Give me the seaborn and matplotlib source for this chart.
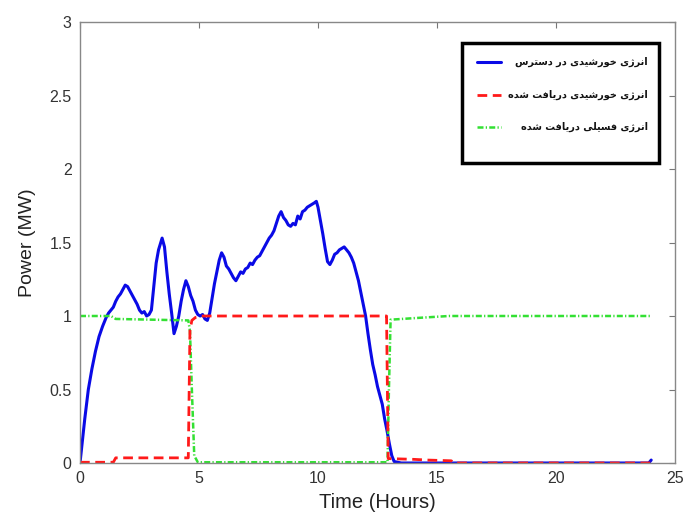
import numpy as np
import pandas as pd
import matplotlib
matplotlib.use("Agg")
import matplotlib.pyplot as plt
from matplotlib.patches import Rectangle
from matplotlib.lines import Line2D
import seaborn as sns

# ---------------- data ----------------
blue_t = [0.0, 0.1, 0.2, 0.35, 0.5, 0.65, 0.8, 0.95, 1.1, 1.2, 1.3, 1.4, 1.5, 1.6, 1.7, 1.8, 1.9,
          2.0, 2.1, 2.2, 2.3, 2.4, 2.5, 2.6, 2.7, 2.8, 2.9, 3.0, 3.1, 3.2, 3.3, 3.45, 3.55, 3.65,
          3.75, 3.85, 3.95, 4.05, 4.15, 4.25, 4.35, 4.45, 4.55, 4.65, 4.75, 4.85, 4.95, 5.05,
          5.15, 5.25, 5.35, 5.45, 5.55, 5.65, 5.75, 5.85, 5.95, 6.05, 6.15, 6.25, 6.35, 6.45,
          6.55, 6.65, 6.75, 6.85, 6.95, 7.05, 7.15, 7.25, 7.35, 7.45, 7.55, 7.65, 7.75, 7.85,
          7.95, 8.05, 8.15, 8.25, 8.35, 8.45, 8.55, 8.65, 8.75, 8.85, 8.95, 9.05, 9.15, 9.25,
          9.35, 9.45, 9.55, 9.65, 9.75, 9.85, 9.93, 10.0, 10.1, 10.2, 10.3, 10.4, 10.5, 10.6,
          10.7, 10.8, 10.9, 11.0, 11.1, 11.2, 11.3, 11.4, 11.5, 11.6, 11.7, 11.8, 11.9, 12.0,
          12.1, 12.2, 12.3, 12.4, 12.5, 12.6, 12.7, 12.8, 12.9, 13.0, 13.1, 13.2, 13.5, 16.0,
          20.0, 23.9, 24.0]
blue_p = [0.0, 0.15, 0.30, 0.50, 0.64, 0.76, 0.86, 0.93, 0.99, 1.02, 1.04, 1.06, 1.10, 1.13,
          1.15, 1.18, 1.21, 1.20, 1.17, 1.14, 1.11, 1.08, 1.04, 1.02, 1.03, 1.00, 1.01, 1.04,
          1.20, 1.36, 1.45, 1.53, 1.47, 1.30, 1.15, 1.02, 0.88, 0.93, 1.00, 1.10, 1.18, 1.24,
          1.20, 1.14, 1.10, 1.04, 1.01, 1.00, 1.01, 0.98, 0.97, 1.02, 1.12, 1.22, 1.30, 1.38,
          1.43, 1.40, 1.34, 1.32, 1.29, 1.26, 1.24, 1.27, 1.30, 1.29, 1.32, 1.33, 1.36, 1.35,
          1.38, 1.40, 1.41, 1.44, 1.47, 1.50, 1.53, 1.55, 1.58, 1.63, 1.68, 1.71, 1.67, 1.65,
          1.62, 1.61, 1.63, 1.62, 1.68, 1.66, 1.71, 1.72, 1.74, 1.75, 1.76, 1.77, 1.78, 1.74,
          1.65, 1.56, 1.46, 1.37, 1.35, 1.38, 1.42, 1.43, 1.45, 1.46, 1.47, 1.45, 1.43, 1.40,
          1.36, 1.30, 1.24, 1.16, 1.08, 1.00, 0.88, 0.77, 0.67, 0.60, 0.52, 0.46, 0.40, 0.30,
          0.22, 0.13, 0.05, 0.01, 0.0, 0.0, 0.0, 0.0, 0.02]

red_t = [0.0, 1.4, 1.5, 4.55, 4.62, 4.7, 4.85, 5.1, 12.88, 12.95, 14.0, 14.6, 15.6, 15.7, 24.0]
red_p = [0.005, 0.005, 0.035, 0.035, 0.90, 0.97, 0.99, 1.0, 1.0, 0.03, 0.025, 0.02, 0.015, 0.0, 0.0]

green_t = [0.0, 1.3, 1.5, 4.55, 4.62, 4.7, 4.8, 4.95, 12.92, 12.98, 13.05, 14.0, 15.0, 15.5, 24.0]
green_p = [1.0, 1.0, 0.98, 0.97, 0.90, 0.50, 0.05, 0.005, 0.005, 0.50, 0.975, 0.985, 0.995, 1.0, 1.0]

labels = ["انرژی خورشیدی در دسترس", "انرژی خورشیدی دریافت شده", "انرژی فسیلی دریافت شده"]
x_ticks = [0, 5, 10, 15, 20, 25]
y_ticks = [0, 0.5, 1, 1.5, 2, 2.5, 3]
y_ticklabels = ["0", "0.5", "1", "1.5", "2", "2.5", "3"]

# ---------------- simple Persian shaping (presentation forms, visual order) ----------------
FORMS = {
    'ا': ('\u0627', '\uFE8E', None, None),
    'ن': ('\u0646', '\uFEE6', '\uFEE7', '\uFEE8'),
    'ر': ('\u0631', '\uFEAE', None, None),
    'ژ': ('\u0698', '\uFB8B', None, None),
    'ی': ('\u06CC', '\uFEF0', '\uFEF3', '\uFEF4'),
    'خ': ('\u062E', '\uFEA6', '\uFEA7', '\uFEA8'),
    'و': ('\u0648', '\uFEEE', None, None),
    'ش': ('\u0634', '\uFEB6', '\uFEB7', '\uFEB8'),
    'د': ('\u062F', '\uFEAA', None, None),
    'س': ('\u0633', '\uFEB2', '\uFEB3', '\uFEB4'),
    'ت': ('\u062A', '\uFE96', '\uFE97', '\uFE98'),
    'ف': ('\u0641', '\uFED2', '\uFED3', '\uFED4'),
    'ه': ('\u0647', '\uFEEA', '\uFEEB', '\uFEEC'),
    'ل': ('\u0644', '\uFEDE', '\uFEDF', '\uFEE0'),
}


def shape(text):
    out = []
    n = len(text)
    for i, ch in enumerate(text):
        if ch not in FORMS:
            out.append(ch)
            continue
        prev = text[i - 1] if i > 0 else None
        nxt = text[i + 1] if i < n - 1 else None
        join_prev = prev in FORMS and FORMS[prev][2] is not None
        join_next = FORMS[ch][2] is not None and nxt in FORMS
        iso, fin, ini, med = FORMS[ch]
        if join_prev and join_next:
            out.append(med)
        elif join_prev:
            out.append(fin)
        elif join_next:
            out.append(ini)
        else:
            out.append(iso)
    return ''.join(reversed(out))


# ---------------- figure ----------------
sns.set_style("white")
plt.rcParams['font.family'] = ['Liberation Sans', 'DejaVu Sans']

fig = plt.figure(figsize=(6.84, 5.16), dpi=100)
ax = fig.add_axes([80 / 684, 53 / 516, 595 / 684, 441 / 516])

blue_c = "#0a0ae6"
red_c = "#ff1a1a"
green_c = "#33e033"
green_dash = [2.4, 0.9, 0.5, 0.9]
red_dash = [3.5, 2.0]

df_b = pd.DataFrame({"t": blue_t, "p": blue_p})
df_r = pd.DataFrame({"t": red_t, "p": red_p})
df_g = pd.DataFrame({"t": green_t, "p": green_p})

sns.lineplot(data=df_b, x="t", y="p", ax=ax, color=blue_c, lw=2.2, sort=False, estimator=None)
sns.lineplot(data=df_g, x="t", y="p", ax=ax, color=green_c, lw=1.8, sort=False, estimator=None)
ax.lines[-1].set_dashes(green_dash)
sns.lineplot(data=df_r, x="t", y="p", ax=ax, color=red_c, lw=2.0, sort=False, estimator=None)
ax.lines[-1].set_dashes(red_dash)

ax.set_xlim(0, 25)
ax.set_ylim(0, 3)
ax.set_xticks(x_ticks)
ax.set_yticks(y_ticks)
ax.set_yticklabels(y_ticklabels)
ax.set_xlabel("Time (Hours)", fontsize=14.5, color="#222222", labelpad=5)
ax.set_ylabel("Power (MW)", fontsize=14, color="#222222", labelpad=10)
ax.tick_params(axis="both", which="both", direction="in", length=4, width=0.8, colors="#777777",
               labelcolor="#333333", labelsize=11.5, top=True, right=True, pad=6)
for s in ax.spines.values():
    s.set_visible(True)
    s.set_color("#888888")
    s.set_linewidth(1.0)

# ---------------- legend box (drawn like the reference: handle left, text right-aligned) ----------------
def ax_x(px):
    return (px - 80) / 595


def ax_y(py):
    return (463 - py) / 441


lx0, lx1, ly_top, ly_bot = ax_x(462), ax_x(659), ax_y(43), ax_y(163)
ax.add_patch(Rectangle((lx0, ly_bot), lx1 - lx0, ly_top - ly_bot, transform=ax.transAxes,
                       facecolor="white", edgecolor="black", lw=2.5, zorder=5))
rows_y = [ax_y(61.5), ax_y(95), ax_y(127)]
styles = [dict(color=blue_c, lw=2.2, ls="-"),
          dict(color=red_c, lw=2.0, dashes=red_dash),
          dict(color=green_c, lw=1.8, dashes=green_dash)]
for y, lab, st in zip(rows_y, labels, styles):
    ax.add_line(Line2D([ax_x(477), ax_x(501)], [y, y], transform=ax.transAxes, zorder=6, **st))
    ax.text(ax_x(648), y, shape(lab), transform=ax.transAxes, ha="right", va="center",
            fontsize=7.0, fontweight="bold", family=["DejaVu Sans"], color="#111111", zorder=6)

fig.savefig("out.png", dpi=100)
